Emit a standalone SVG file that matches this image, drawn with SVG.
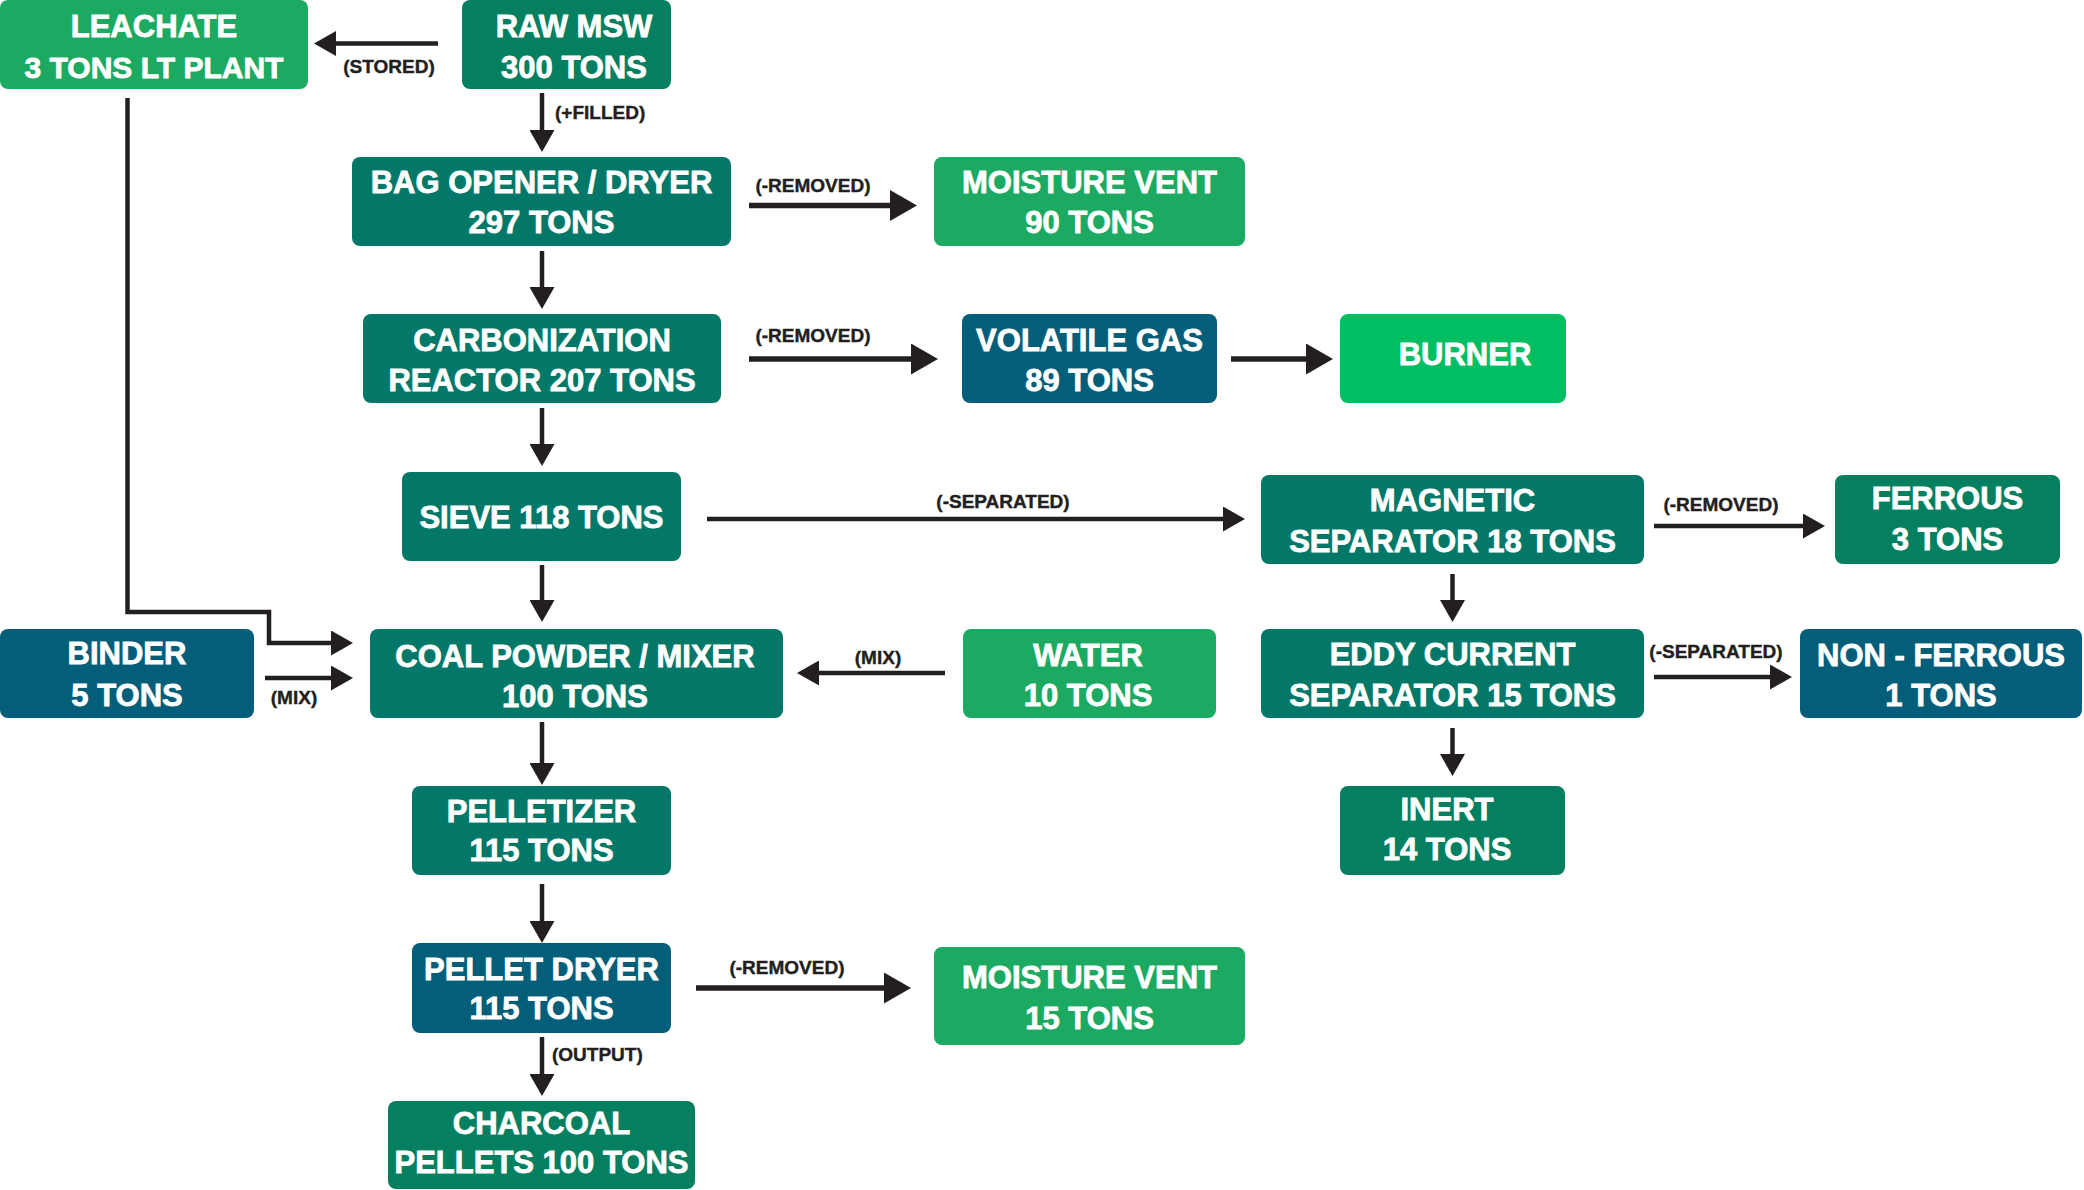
<svg xmlns="http://www.w3.org/2000/svg" width="2084" height="1190" viewBox="0 0 2084 1190">
<defs>
<style>
.teal{fill:#037868}
.green{fill:#047f5f}
.light{fill:#1caa62}
.blue{fill:#035e7a}
.bright{fill:#01be63}
.nt{font-family:"Liberation Sans",Arial,sans-serif;font-weight:bold;font-size:31px;fill:#ffffff;stroke:#ffffff;stroke-width:0.8;text-anchor:middle}
.lb{font-family:"Liberation Sans",Arial,sans-serif;font-weight:bold;font-size:19px;fill:#231f20;stroke:#231f20;stroke-width:0.4}
.c{text-anchor:middle}
.ln{fill:none;stroke:#231f20;stroke-width:4.5}
.lnb{fill:none;stroke:#231f20;stroke-width:5.5}
</style>
<marker id="am" markerUnits="userSpaceOnUse" markerWidth="22" markerHeight="25" refX="14" refY="12.5" orient="auto" viewBox="0 0 22 25">
<path d="M0,0 L22,12.5 L0,25 z" fill="#231f20"/>
</marker>
<marker id="ab" markerUnits="userSpaceOnUse" markerWidth="27" markerHeight="31" refX="19" refY="15.5" orient="auto" viewBox="0 0 27 31">
<path d="M0,0 L27,15.5 L0,31 z" fill="#231f20"/>
</marker>
</defs>
<rect width="2084" height="1190" fill="#ffffff"/>
<g id="connectors">
<path class="ln" d="M438,43.5 H322" marker-end="url(#am)"/>
<path class="ln" d="M542,93 V144" marker-end="url(#am)"/>
<path class="lnb" d="M749,205.5 H909" marker-end="url(#ab)"/>
<path class="ln" d="M542,251 V301" marker-end="url(#am)"/>
<path class="lnb" d="M749,359 H930" marker-end="url(#ab)"/>
<path class="lnb" d="M1231,359 H1325" marker-end="url(#ab)"/>
<path class="ln" d="M542,408 V458" marker-end="url(#am)"/>
<path class="ln" d="M707,519 H1237" marker-end="url(#am)"/>
<path class="ln" d="M1654,526 H1817" marker-end="url(#am)"/>
<path class="ln" d="M1452.5,574 V614" marker-end="url(#am)"/>
<path class="ln" d="M1654,677 H1784" marker-end="url(#am)"/>
<path class="ln" d="M1452.5,728 V768" marker-end="url(#am)"/>
<path class="ln" d="M542,565 V614" marker-end="url(#am)"/>
<path class="ln" d="M945,673 H805" marker-end="url(#am)"/>
<path class="ln" d="M265,678 H345" marker-end="url(#am)"/>
<path class="ln" d="M127.5,98 V612 H269 V643 H345" marker-end="url(#am)"/>
<path class="ln" d="M542,722 V777" marker-end="url(#am)"/>
<path class="ln" d="M542,884 V935" marker-end="url(#am)"/>
<path class="lnb" d="M696,988 H903" marker-end="url(#ab)"/>
<path class="ln" d="M542,1037 V1088" marker-end="url(#am)"/>
<text class="lb c" x="389" y="73">(STORED)</text>
<text class="lb" x="555" y="119">(+FILLED)</text>
<text class="lb c" x="813" y="192">(-REMOVED)</text>
<text class="lb c" x="813" y="342">(-REMOVED)</text>
<text class="lb c" x="1003" y="508">(-SEPARATED)</text>
<text class="lb c" x="1721" y="511">(-REMOVED)</text>
<text class="lb c" x="1716" y="658">(-SEPARATED)</text>
<text class="lb c" x="878" y="664">(MIX)</text>
<text class="lb c" x="294" y="704">(MIX)</text>
<text class="lb c" x="787" y="974">(-REMOVED)</text>
<text class="lb" x="552" y="1061">(OUTPUT)</text>
</g>
<g id="leachate"><rect class="light" x="0" y="0" width="308" height="89" rx="8"/><text class="nt" x="154" y="37">LEACHATE</text><text class="nt" x="154" y="78" style="font-size:30px">3 TONS LT PLANT</text></g>
<g id="raw-msw"><rect class="green" x="462" y="0" width="209" height="89" rx="8"/><text class="nt" x="574" y="37">RAW MSW</text><text class="nt" x="574" y="78">300 TONS</text></g>
<g id="bag-opener"><rect class="teal" x="352" y="157" width="379" height="89" rx="8"/><text class="nt" x="541.5" y="192.5">BAG OPENER / DRYER</text><text class="nt" x="541.5" y="232.5">297 TONS</text></g>
<g id="moisture-vent-90"><rect class="light" x="934" y="157" width="311" height="89" rx="8"/><text class="nt" x="1089.5" y="192.5">MOISTURE VENT</text><text class="nt" x="1089.5" y="232.5">90 TONS</text></g>
<g id="carbonization"><rect class="teal" x="363" y="314" width="358" height="89" rx="8"/><text class="nt" x="542" y="351">CARBONIZATION</text><text class="nt" x="542" y="391">REACTOR 207 TONS</text></g>
<g id="volatile-gas"><rect class="blue" x="962" y="314" width="255" height="89" rx="8"/><text class="nt" x="1089.5" y="351">VOLATILE GAS</text><text class="nt" x="1089.5" y="391">89 TONS</text></g>
<g id="burner"><rect class="bright" x="1340" y="314" width="226" height="89" rx="8"/><text class="nt" x="1465" y="365">BURNER</text></g>
<g id="sieve"><rect class="teal" x="402" y="472" width="279" height="89" rx="8"/><text class="nt" x="541.5" y="528">SIEVE 118 TONS</text></g>
<g id="magnetic"><rect class="teal" x="1261" y="475" width="383" height="89" rx="8"/><text class="nt" x="1452.5" y="511">MAGNETIC</text><text class="nt" x="1452.5" y="552">SEPARATOR 18 TONS</text></g>
<g id="ferrous"><rect class="green" x="1835" y="475" width="225" height="89" rx="8"/><text class="nt" x="1947.5" y="509">FERROUS</text><text class="nt" x="1947.5" y="550">3 TONS</text></g>
<g id="eddy-current"><rect class="teal" x="1261" y="629" width="383" height="89" rx="8"/><text class="nt" x="1452.5" y="665">EDDY CURRENT</text><text class="nt" x="1452.5" y="706">SEPARATOR 15 TONS</text></g>
<g id="non-ferrous"><rect class="blue" x="1800" y="629" width="282" height="89" rx="8"/><text class="nt" x="1941" y="666">NON - FERROUS</text><text class="nt" x="1941" y="706">1 TONS</text></g>
<g id="inert"><rect class="green" x="1340" y="786" width="225" height="89" rx="8"/><text class="nt" x="1447" y="820">INERT</text><text class="nt" x="1447" y="860">14 TONS</text></g>
<g id="coal-powder"><rect class="teal" x="370" y="629" width="413" height="89" rx="8"/><text class="nt" x="575" y="667">COAL POWDER / MIXER</text><text class="nt" x="575" y="707">100 TONS</text></g>
<g id="water"><rect class="light" x="963" y="629" width="253" height="89" rx="8"/><text class="nt" x="1088" y="666">WATER</text><text class="nt" x="1088" y="706">10 TONS</text></g>
<g id="binder"><rect class="blue" x="0" y="629" width="254" height="89" rx="8"/><text class="nt" x="127" y="664">BINDER</text><text class="nt" x="127" y="706">5 TONS</text></g>
<g id="pelletizer"><rect class="teal" x="412" y="786" width="259" height="89" rx="8"/><text class="nt" x="541.5" y="822">PELLETIZER</text><text class="nt" x="541.5" y="861">115 TONS</text></g>
<g id="pellet-dryer"><rect class="blue" x="412" y="943" width="259" height="90" rx="8"/><text class="nt" x="541.5" y="980">PELLET DRYER</text><text class="nt" x="541.5" y="1019">115 TONS</text></g>
<g id="moisture-vent-15"><rect class="light" x="934" y="947" width="311" height="98" rx="8"/><text class="nt" x="1089.5" y="988">MOISTURE VENT</text><text class="nt" x="1089.5" y="1029">15 TONS</text></g>
<g id="charcoal"><rect class="green" x="388" y="1101" width="307" height="88" rx="8"/><text class="nt" x="541.5" y="1134">CHARCOAL</text><text class="nt" x="541.5" y="1173">PELLETS 100 TONS</text></g>
</svg>
